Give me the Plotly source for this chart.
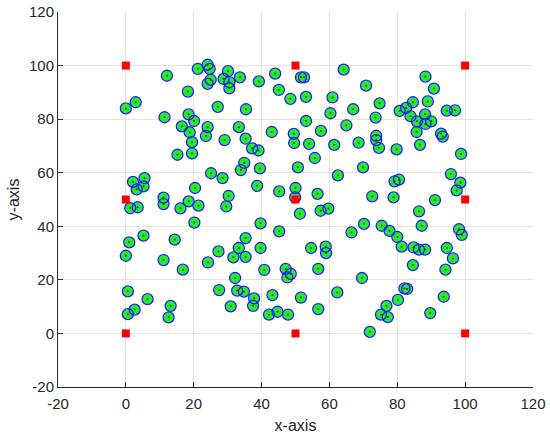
import plotly.graph_objects as go

# anchor nodes (red squares)
anchor_x = [0, 50, 100, 0, 50, 100, 0, 50, 100]
anchor_y = [0, 0, 0, 50, 50, 50, 100, 100, 100]

# node positions
node_x = [12.1, 21.2, 24.1, 24.7, 30.1, 28.8, 25.0, 24.1, 30.5, 30.5, 18.3, 2.9, 0.0, 27.1, 11.4, 18.5, 20.1, 16.5, 24.1, 18.8,
          23.6, 29.1, 19.5, 15.2, 19.5, 33.3,
          33.6, 39.2, 44.0, 51.6, 52.5, 64.2, 45.1, 48.5, 53.1, 60.9, 35.4, 60.3, 67.0, 53.1, 65.0, 43.0, 57.5, 35.3, 49.5, 49.6,
          54.0, 61.4, 37.2, 39.1,
          88.3, 90.8, 70.8, 74.8, 89.0, 84.6, 80.7, 82.6, 94.6, 97.0, 73.6, 83.9, 88.2, 85.8, 88.3, 90.0, 85.7, 92.9, 93.4, 73.8,
          73.8, 68.6, 74.6, 79.8, 86.7, 98.8,
          25.1, 28.5, 5.5, 2.1, 5.2, 3.2, 20.4, 30.3, 29.6, 11.1, 11.1, 18.5, 21.4, 16.1, 1.3, 3.5, 20.2, 5.2, 1.0, 14.4,
          34.9, 33.9, 39.5, 50.7, 55.7, 62.5, 38.7, 45.2, 50.0, 49.9, 56.5, 51.3, 57.4, 59.7, 39.7, 45.2, 66.5, 35.3, 39.7, 33.3,
          54.6, 58.9,
          69.9, 79.2, 80.5, 95.8, 98.6, 97.5, 72.6, 78.9, 91.1, 86.4, 87.2, 70.2, 75.4, 77.7, 98.2, 99.0, 80.0, 84.8, 86.4, 88.2,
          81.3, 94.6,
          0.0, 11.1, 16.8, 24.2, 27.3, 31.7, 32.2, 0.6, 6.4, 13.2, 2.6, 0.6, 12.6, 27.5, 30.9,
          35.3, 59.0, 40.8, 47.1, 48.6, 47.6, 56.7, 32.8, 34.8, 43.2, 37.8, 37.5, 51.6, 62.3, 42.2, 44.7, 47.8, 56.7,
          96.4, 84.6, 94.2, 69.6, 82.1, 82.9, 80.2, 93.7, 76.8, 75.2, 77.2, 89.7, 71.9]
node_y = [96.2, 98.8, 100.3, 98.8, 97.9, 95.0, 94.7, 93.2, 93.8, 91.5, 90.3, 86.3, 84.0, 84.6, 80.7, 81.8, 79.3, 77.3, 77.0, 75.1,
          73.7, 72.2, 71.4, 66.7, 67.2, 77.0,
          95.6, 94.1, 97.0, 95.6, 95.6, 98.5, 90.9, 87.6, 88.3, 88.1, 83.7, 82.2, 83.7, 79.3, 77.7, 75.2, 75.6, 72.7, 74.5, 71.1,
          70.8, 70.4, 69.1, 68.3,
          95.9, 91.4, 92.5, 85.9, 86.6, 86.3, 83.1, 84.2, 83.2, 83.3, 80.6, 81.1, 81.8, 79.2, 78.2, 79.2, 75.2, 74.6, 73.5, 73.8,
          72.2, 71.2, 69.3, 68.7, 70.4, 67.0,
          59.8, 58.0, 58.0, 56.6, 54.9, 53.8, 54.3, 51.3, 47.4, 50.7, 48.3, 49.3, 47.7, 46.7, 46.8, 47.1, 41.4, 36.5, 34.0, 35.0,
          63.7, 61.0, 61.6, 62.0, 65.5, 59.0, 55.1, 53.0, 54.3, 50.8, 52.1, 44.7, 45.8, 46.6, 41.1, 38.1, 37.7, 35.6, 31.9, 31.9,
          31.9, 32.4,
          62.0, 56.8, 57.4, 59.5, 56.3, 53.4, 51.2, 50.8, 49.8, 45.6, 40.2, 40.9, 40.2, 38.3, 38.9, 36.8, 36.0, 32.1, 31.3, 31.3,
          32.4, 31.9,
          29.0, 27.4, 23.8, 26.5, 30.6, 28.4, 20.7, 15.7, 12.8, 10.3, 8.9, 7.2, 6.0, 16.2, 10.1,
          28.6, 30.0, 23.7, 24.1, 22.2, 20.9, 24.1, 16.0, 15.6, 14.3, 13.1, 10.3, 13.4, 15.3, 7.0, 8.1, 7.0, 9.1,
          28.0, 25.5, 23.8, 20.7, 16.8, 16.6, 12.5, 13.7, 10.3, 7.0, 6.1, 7.6, 0.6]

tick_vals = [-20, 0, 20, 40, 60, 80, 100, 120]
tick_text = ["-20", "0", "20", "40", "60", "80", "100", "120"]

fig = go.Figure()

# estimated positions (green filled)
fig.add_trace(go.Scatter(x=node_x, y=node_y, mode="markers", name="estimated",
                         marker=dict(symbol="circle", size=10, color="#22ee22", line=dict(width=0))))
# true positions (blue open circles)
fig.add_trace(go.Scatter(x=node_x, y=node_y, mode="markers", name="true",
                         marker=dict(symbol="circle-open", size=11, color="#1a1aff", line=dict(width=1.3))))
# centre dots
fig.add_trace(go.Scatter(x=node_x, y=node_y, mode="markers", name="centre",
                         marker=dict(symbol="circle", size=2, color="#1a3a1a")))
# anchors
fig.add_trace(go.Scatter(x=anchor_x, y=anchor_y, mode="markers", name="anchors",
                         marker=dict(symbol="square", size=8, color="#ff0000")))

axis_style = dict(showgrid=True, gridcolor="#e3e3e3", gridwidth=1, zeroline=False,
                  showline=True, linecolor="#262626", linewidth=1, mirror=False,
                  ticks="inside", ticklen=5, tickcolor="#262626",
                  tickvals=tick_vals, ticktext=tick_text, automargin=False,
                  tickfont=dict(family="Liberation Sans, Arial", size=15, color="#262626"))

fig.update_layout(
    width=550, height=437,
    margin=dict(l=58, r=17, t=12, b=50),
    paper_bgcolor="white", plot_bgcolor="white",
    showlegend=False,
    xaxis=dict(range=[-20, 120], ticklabelstandoff=3,
               title=dict(text="x-axis", standoff=8,
                          font=dict(family="Liberation Sans, Arial", size=16, color="#262626")),
               **axis_style),
    yaxis=dict(range=[-20, 120],
               title=dict(text="y-axis", standoff=5,
                          font=dict(family="Liberation Sans, Arial", size=16, color="#262626")),
               **axis_style),
)

# page body has a default 8px margin; drop it so the figure sits at the window corner
fig.write_html("out.html", config={"displayModeBar": False},
               post_script="document.body.style.margin='0';")
